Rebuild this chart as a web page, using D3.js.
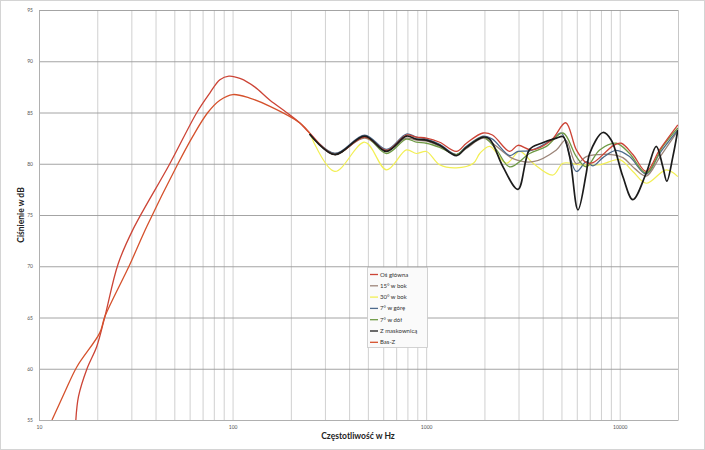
<!DOCTYPE html>
<html><head><meta charset="utf-8">
<script src="https://cdn.jsdelivr.net/npm/d3@7/dist/d3.min.js"></script>
<style>
html,body{margin:0;padding:0;background:#fff;}
svg{display:block;font-family:Lato,"Open Sans",sans-serif;}
</style></head>
<body>
<svg id="chart" width="705" height="450"></svg>
<script>
// ---- data ----
const yTicks = [55,60,65,70,75,80,85,90,95];
const xTickLabels = [10,100,1000,10000];
const seriesNames = ["Oś główna","15° w bok","30° w bok","7° w górę","7° w dół","Z maskownicą","Bas-Z"];

const osGlowna = [[15.5,55],[16.0,57.3],[17.7,60],[19.9,62.2],[21.9,65.1],[25.6,70.2],[30.6,73.6],[47.4,80],[65.4,85],[76.3,86.9],[86,88.2],[95.7,88.55],[110,88.3],[130,87.5],[156,86.2],[190,85.0],[222,84.0],[250,83.0],
  [337,80.9],[482,82.6],[624,81.3],[791,82.8],[891,82.6],[1003,82.5],[1175,82.1],[1433,81.2],[1614,82.0],[1967,83.0],[2200,82.8],[2702,81.2],[2980,81.8],[3497,81.35],[4436,82.3],[5256,84.0],[5970,81.35],[6720,80.1],[7275,80.1],[9300,81.8],[10180,82.0],[11690,80.9],[13710,79.25],[16060,81.35],[19960,83.8]];
const bok15 = [[250,82.9],[337,81.0],[482,82.5],[624,81.3],[791,82.5],[891,82.3],[1003,82.2],[1175,81.7],[1433,80.9],[1614,81.5],[1967,82.5],[2200,82.0],[2812,80.5],[3565,80.2],[4707,81.35],[5256,82.3],[5970,80.0],[6720,80.7],[7876,80.9],[9050,80.9],[10380,80.6],[12000,79.5],[13710,78.8],[16060,80.6],[19960,83.2]];
const bok30 = [[250,83.0],[337,79.25],[482,82.1],[624,79.4],[791,81.35],[891,81.0],[1003,81.2],[1175,79.9],[1433,79.6],[1754,80.05],[1892,81.0],[2130,81.7],[2598,80.05],[3041,81.2],[3565,80.05],[4520,78.9],[5090,80.05],[6210,79.9],[7876,79.9],[9980,80.4],[11690,79.25],[13710,78.1],[17390,79.4],[19960,78.75]];
const gora7 = [[250,82.9],[337,81.0],[482,82.8],[624,81.4],[791,82.9],[891,82.6],[1003,82.4],[1175,81.9],[1433,80.9],[1614,81.7],[1967,82.7],[2200,82.4],[2702,80.8],[2980,81.2],[3497,81.3],[4520,82.4],[4990,83.0],[5970,79.25],[6720,80.2],[7275,79.8],[8190,80.6],[9600,81.3],[11240,80.7],[13710,79.0],[16060,81.0],[19960,83.3]];
const dol7 = [[250,82.9],[337,80.9],[482,82.6],[624,81.0],[791,82.4],[891,82.1],[1003,82.0],[1175,81.6],[1433,80.9],[1614,81.6],[1967,82.6],[2300,81.4],[2702,79.7],[3426,81.0],[4180,81.7],[5090,83.0],[5970,80.7],[6720,79.7],[7876,81.35],[9600,82.0],[11240,81.0],[13710,79.1],[16700,81.7],[19960,83.5]];
const maskownica = [[250,82.9],[337,80.9],[482,82.7],[624,81.2],[791,82.7],[891,82.4],[1003,82.3],[1175,81.8],[1433,80.8],[1614,81.6],[1967,82.6],[2130,82.4],[2495,79.7],[2980,77.5],[3426,81.4],[3939,82.0],[4707,82.5],[5090,82.65],[5510,80.7],[6085,75.5],[6720,79.1],[6993,81.0],[8190,83.05],[9050,82.3],[10380,78.75],[11690,76.5],[13710,79.1],[15440,81.7],[16700,79.7],[17510,78.3],[18820,80.7],[19960,83.3]];
const basZ = [[11.67,55],[13.5,57.6],[15.7,60.2],[20.6,63.5],[21.9,65.1],[29.5,70.2],[36.1,73.9],[52.2,80],[62.4,82.7],[74.5,85],[86,86.2],[100.4,86.75],[122.7,86.4],[156,85.6],[222,84.0],[250,83.0]];

const seriesData = [osGlowna,bok15,bok30,gora7,dol7,maskownica,basZ];
const colors = ["#cc4436","#9c8579","#f2ef55","#4d6a8c","#6f9a45","#1c1c1c","#d5512c"];
const widths = [1.3,1.3,1.2,1.3,1.3,1.7,1.3];
const drawOrder = [2,1,3,4,0,6,5];

// ---- chart ----
const svg = d3.select("#chart");
const W=705,H=450;
const x = d3.scaleLog().domain([10,20000]).range([39,678]);
const y = d3.scaleLinear().domain([55,95]).range([420,10]);

svg.append("rect").attr("x",0.5).attr("y",0.5).attr("width",W-1).attr("height",H-1)
  .attr("fill","#fff").attr("stroke","#d4d4d4");

// vertical grid
const vGrid=[];
for(let d=10; d<=10000; d*=10){ for(let m=1;m<=9;m++){ const v=d*m; if(v<=20000) vGrid.push(v);} }
vGrid.push(20000);
svg.append("g").attr("transform","translate(0,420)")
  .call(d3.axisBottom(x).tickValues(vGrid).tickSize(-410).tickFormat(""))
  .call(g=>g.select(".domain").remove())
  .call(g=>g.selectAll("line").attr("stroke","#c4c4c4").attr("stroke-width",0.8));

// horizontal grid
svg.append("g").attr("transform","translate(39,0)")
  .call(d3.axisLeft(y).tickValues(yTicks).tickSize(-639).tickFormat(""))
  .call(g=>g.select(".domain").remove())
  .call(g=>g.selectAll("line").attr("stroke","#9a9a9a").attr("stroke-width",0.9));

// axis labels
svg.append("g").attr("transform","translate(39,0)")
  .call(d3.axisLeft(y).tickValues(yTicks).tickSize(0).tickPadding(6).tickFormat(d3.format("d")))
  .call(g=>g.select(".domain").attr("stroke","#b0b0b0"))
  .call(g=>g.selectAll("text").attr("font-size",5).attr("fill","#555").attr("font-family","Lato,sans-serif"));
svg.append("g").attr("transform","translate(0,420)")
  .call(d3.axisBottom(x).tickValues(xTickLabels).tickSize(0).tickPadding(5).tickFormat(d3.format("d")))
  .call(g=>g.select(".domain").attr("stroke","#b0b0b0"))
  .call(g=>g.selectAll("text").attr("font-size",5).attr("fill","#555").attr("font-family","Lato,sans-serif"));

// curves
const clip = svg.append("clipPath").attr("id","clip").append("rect").attr("x",39).attr("y",10).attr("width",639).attr("height",410);
const line = d3.line().x(d=>x(d[0])).y(d=>y(d[1])).curve(d3.curveCatmullRom.alpha(0.5));
const gC = svg.append("g").attr("clip-path","url(#clip)");
drawOrder.forEach(i=>{
  gC.append("path").datum(seriesData[i]).attr("d",line).attr("fill","none")
    .attr("stroke",colors[i]).attr("stroke-width",widths[i]).attr("stroke-linejoin","round");
});

// titles
svg.append("text").attr("x",358).attr("y",439).attr("text-anchor","middle")
  .attr("font-size",8.5).attr("font-weight","bold").attr("fill","#222").text("Częstotliwość w Hz");
svg.append("text").attr("transform","translate(24,215) rotate(-90)").attr("text-anchor","middle")
  .attr("font-size",8.5).attr("font-weight","bold").attr("fill","#222").text("Ciśnienie w dB");

// legend
const lg = svg.append("g");
lg.append("rect").attr("x",367.5).attr("y",267.5).attr("width",60).attr("height",80)
  .attr("fill","#fafafa").attr("stroke","#c8c8c8").attr("stroke-width",0.8);
seriesNames.forEach((n,i)=>{
  const yy = 274.5 + i*11.3;
  lg.append("line").attr("x1",370).attr("x2",378).attr("y1",yy).attr("y2",yy)
    .attr("stroke",colors[i]).attr("stroke-width",1.3);
  lg.append("text").attr("x",380).attr("y",yy+2).attr("font-size",6).attr("fill","#333").text(n);
});
</script>
</body></html>
